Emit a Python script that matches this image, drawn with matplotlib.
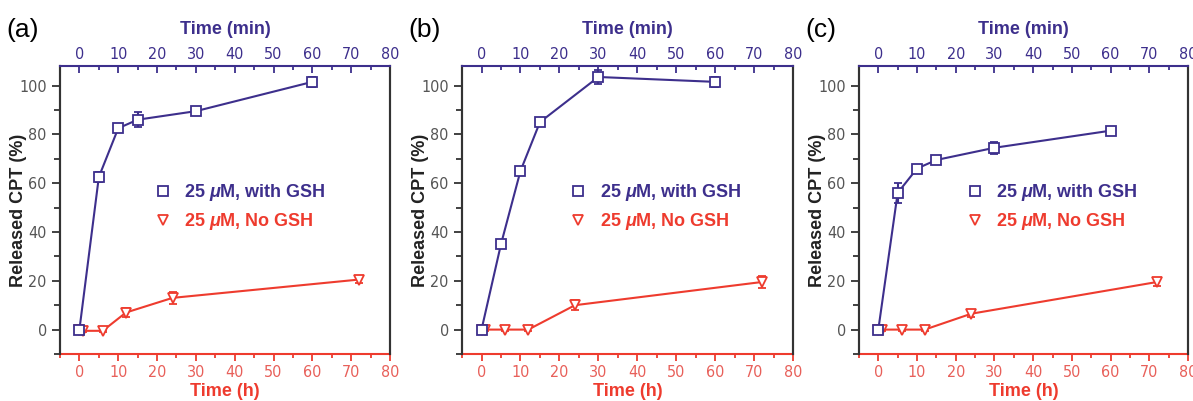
import matplotlib.pyplot as plt
from matplotlib.lines import Line2D
from matplotlib import font_manager

# Data (purple series on top axis in min, red series on bottom axis in h)
t_min = [0, 5, 10, 15, 30, 60]
t_h = [0, 1, 6, 12, 24, 72]

gsh_a = [0, 62.5, 82.5, 86, 89.5, 101.5]
gsh_a_err = [0.5, 2, 1.5, 3, 1, 2]
nogsh_a = [0, -0.5, -0.5, 7, 13, 20.5]
nogsh_a_err = [0.5, 0.5, 0.5, 2, 2.5, 1.5]

gsh_b = [0, 35, 65, 85, 103.5, 101.5]
gsh_b_err = [0.5, 1.5, 1, 1, 3, 2]
nogsh_b = [0, 0, 0, 0, 10, 19.5]
nogsh_b_err = [0.5, 0.5, 0.5, 0.5, 2, 2.5]

gsh_c = [0, 56, 66, 69.5, 74.5, 81.5]
gsh_c_err = [0.5, 4, 1.5, 1, 2.5, 1]
nogsh_c = [0, 0, 0, 0, 6.5, 19.5]
nogsh_c_err = [0.5, 0.5, 0.5, 0.5, 1.5, 1.5]

panels = ["(a)", "(b)", "(c)"]
gsh = [gsh_a, gsh_b, gsh_c]
gsh_err = [gsh_a_err, gsh_b_err, gsh_c_err]
nogsh = [nogsh_a, nogsh_b, nogsh_c]
nogsh_err = [nogsh_a_err, nogsh_b_err, nogsh_c_err]

PURPLE = "#3d2f8c"
RED = "#ee3b2e"
RED_LIGHT = "#e8605a"
GREY = "#555555"

plt.rcParams["font.family"] = ["Liberation Sans", "DejaVu Sans"]
plt.rcParams["mathtext.fontset"] = "custom"
plt.rcParams["mathtext.it"] = "Liberation Sans:bold:italic"

# narrow font for tick labels if available
names = {f.name for f in font_manager.fontManager.ttflist}
if "Liberation Sans Narrow" in names:
    tickprop = font_manager.FontProperties(family="Liberation Sans Narrow", size=12)
else:
    tickprop = font_manager.FontProperties(family="DejaVu Sans", stretch="condensed", size=11.5)

fig = plt.figure(figsize=(11.93, 4.01), dpi=100)
lefts = [0.0503, 0.3873, 0.720]
widths = [0.2766, 0.2775, 0.2758]
leg_x = [0.24, 0.28, 0.28]

for i in range(3):
    ax = fig.add_axes([lefts[i], 0.1172, widths[i], 0.7182])
    top = ax.twiny()

    ax.errorbar(t_h, nogsh[i], yerr=nogsh_err[i], color=RED, marker="v", ms=7,
                mfc="white", mec=RED, mew=1.3, lw=1.5, capsize=3, zorder=3)
    top.errorbar(t_min, gsh[i], yerr=gsh_err[i], color=PURPLE, marker="s", ms=6.5,
                 mfc="white", mec=PURPLE, mew=1.3, lw=1.5, capsize=3, zorder=3)

    for a in (ax, top):
        a.set_xlim(-5, 80)
        a.set_ylim(-10, 108)
        a.set_xticks(range(0, 81, 10))
        a.set_xticks(range(-5, 81, 5), minor=True)

    ax.set_yticks(range(0, 101, 20))
    ax.set_yticks(range(-10, 108, 10), minor=True)

    for side in ("left", "right"):
        ax.spines[side].set_color("#333333")
        ax.spines[side].set_linewidth(1.5)
        top.spines[side].set_color("#333333")
        top.spines[side].set_linewidth(1.5)
    ax.spines["bottom"].set_color(RED)
    ax.spines["bottom"].set_linewidth(1.5)
    top.spines["top"].set_color(PURPLE)
    top.spines["top"].set_linewidth(1.5)
    top.spines["bottom"].set_visible(False)
    ax.spines["top"].set_visible(False)

    ax.tick_params(axis="x", which="both", direction="out", color=RED, width=1.3,
                   labelcolor=RED_LIGHT)
    ax.tick_params(axis="x", which="major", length=5, pad=3)
    ax.tick_params(axis="x", which="minor", length=3)
    ax.tick_params(axis="y", which="both", direction="out", color="#333333", width=1.3,
                   labelcolor=GREY)
    ax.tick_params(axis="y", which="major", length=6)
    ax.tick_params(axis="y", which="minor", length=4)
    top.tick_params(axis="x", which="both", direction="in", colors=PURPLE, width=1.3)
    top.tick_params(axis="x", which="major", length=5, pad=3)
    top.tick_params(axis="x", which="minor", length=3)
    for lab in ax.get_xticklabels() + ax.get_yticklabels() + top.get_xticklabels():
        lab.set_fontproperties(tickprop)

    ax.set_xlabel("Time (h)", color=RED, fontsize=13, fontweight="bold", labelpad=2)
    top.set_xlabel("Time (min)", color=PURPLE, fontsize=13, fontweight="bold", labelpad=9)
    ax.set_ylabel("Released CPT (%)", color="#222222", fontsize=13, fontweight="bold")
    ax.yaxis.set_label_coords(-0.10, 0.5)

    handles = [Line2D([], [], ls="none", marker="s", ms=6.5, mfc="white", mec=PURPLE, mew=1.3),
               Line2D([], [], ls="none", marker="v", ms=7, mfc="white", mec=RED, mew=1.3)]
    leg = top.legend(handles, [r"25 $\mathit{\mu}$M, with GSH", r"25 $\mathit{\mu}$M, No GSH"],
                     loc="center left", bbox_to_anchor=(leg_x[i], 0.51), frameon=False,
                     handlelength=0.8, handletextpad=0.8, labelspacing=0.45,
                     prop={"weight": "bold", "size": 13})
    leg.get_texts()[0].set_color(PURPLE)
    leg.get_texts()[1].set_color(RED)

    fig.text(lefts[i] - 0.045, 0.925, panels[i], fontsize=19, ha="left", va="center")

fig.savefig("out.png", dpi=100)
